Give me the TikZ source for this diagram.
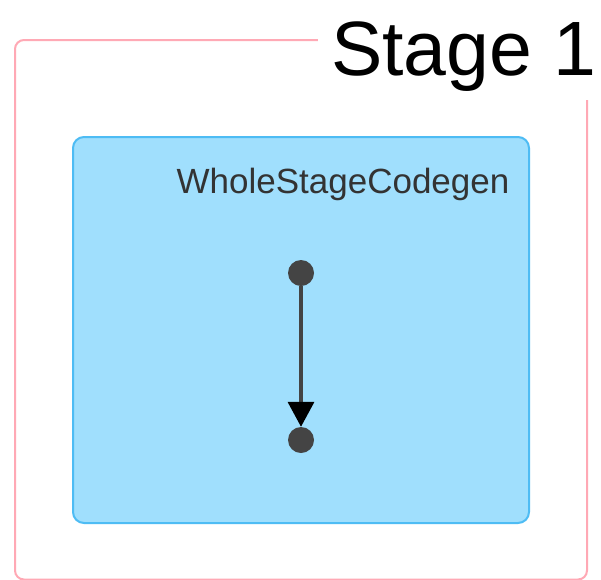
\documentclass[tikz,border=0pt]{standalone}
\usepackage{fontspec}
\setmainfont{Liberation Sans}
\usetikzlibrary{arrows.meta}
\definecolor{stagepink}{HTML}{FFA9B5}
\definecolor{clusterfill}{HTML}{A0DFFD}
\definecolor{clusterline}{HTML}{4EBCF4}
\definecolor{dotgrey}{HTML}{444444}
\definecolor{labelgrey}{HTML}{333333}
\tikzset{
  stagebox/.style={draw=stagepink, line width=2pt, rounded corners=9pt},
  clusterbox/.style={draw=clusterline, fill=clusterfill, line width=2pt, rounded corners=11pt},
  opdot/.style={circle, fill=dotgrey, inner sep=0pt, minimum size=26pt},
  flow/.style={draw=dotgrey, line width=3.5pt,
    -{Triangle[width=26pt,length=25pt,color=black,fill=black]}},
}
\begin{document}
\begin{tikzpicture}[x=1pt,y=-1pt]
  \useasboundingbox[fill=white] (0,0) rectangle (601,579);
  % stage frame, with a white gap behind its title
  \draw[stagebox] (15,40) rectangle (587,579.5);
  \fill[white] (318,0) rectangle (601,100);
  \node[anchor=base west, inner sep=0pt, text=black,
        font=\fontsize{77}{80}\selectfont] (title) at (331,75) {Stage 1};
  % codegen cluster
  \draw[clusterbox] (73,137) rectangle (529,523);
  \node[text=labelgrey, font=\fontsize{35}{38}\selectfont, anchor=base] (lbl) at (343,193) {WholeStageCodegen};
  % operators
  \node[opdot] (op1) at (301,273) {};
  \node[opdot] (op2) at (301,440) {};
  \draw[flow] (op1) -- (op2);
\end{tikzpicture}
\end{document}
